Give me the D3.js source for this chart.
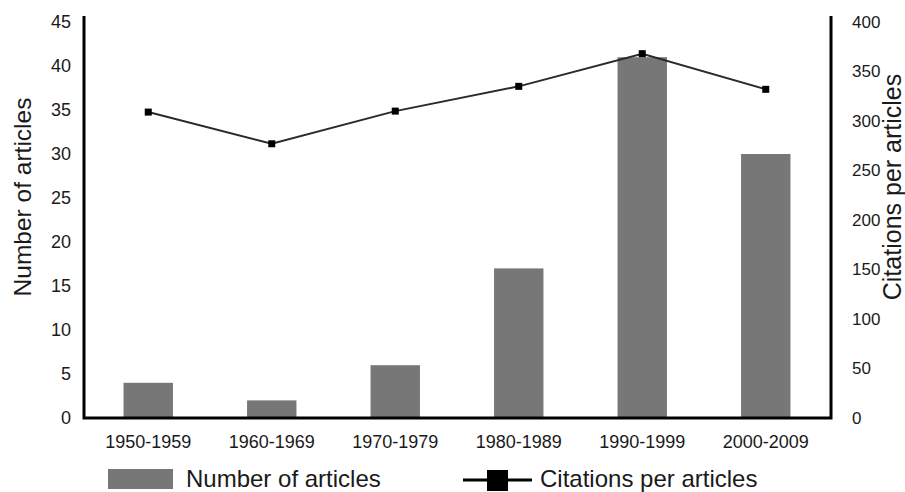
<!DOCTYPE html>
<html>
<head>
<meta charset="utf-8">
<script src="https://cdn.jsdelivr.net/npm/d3@7"></script>
<style>
  html, body { margin: 0; padding: 0; background: #ffffff; }
  svg { display: block; font-family: "Liberation Sans", Arial, sans-serif; }
</style>
</head>
<body>
<svg id="chart" width="905" height="492"></svg>
<script>
const categories = ["1950-1959", "1960-1969", "1970-1979", "1980-1989", "1990-1999", "2000-2009"];
const articles = [4, 2, 6, 17, 41, 30];
const citations = [309, 277, 310, 335, 368, 332];
const leftTicks = [0, 5, 10, 15, 20, 25, 30, 35, 40, 45];
const rightTicks = [0, 50, 100, 150, 200, 250, 300, 350, 400];
const seriesNames = ["Number of articles", "Citations per articles"];

(function () {
const svg = d3.select("#chart");
const pLeft = 84, pRight = 831, pTop = 16, pBase = 418;

const x = d3.scaleBand().domain(categories).range([86.5, 827.5]).paddingInner(0.6).paddingOuter(0.3);
const yL = d3.scaleLinear().domain([0, 45]).range([pBase, 22]);
const yR = d3.scaleLinear().domain([0, 400]).range([pBase, 22]);

const barColor = "#777777";
const textColor = "#1a1a1a";
const ff = "Liberation Sans, Arial, sans-serif";

// bars
svg.append("g").selectAll("rect").data(articles).join("rect")
  .attr("x", (d, i) => x(categories[i]))
  .attr("width", x.bandwidth())
  .attr("y", d => yL(d))
  .attr("height", d => yL(0) - yL(d))
  .attr("fill", barColor);

// line
const cx = i => x(categories[i]) + x.bandwidth() / 2;
const line = d3.line().x((d, i) => cx(i)).y(d => yR(d));
svg.append("path").datum(citations)
  .attr("d", line).attr("fill", "none").attr("stroke", "#2a2a2a").attr("stroke-width", 2);
svg.append("g").selectAll("rect").data(citations).join("rect")
  .attr("x", (d, i) => cx(i) - 3.5).attr("y", d => yR(d) - 3.5)
  .attr("width", 7).attr("height", 7).attr("fill", "#000");

// axes
const axL = d3.axisLeft(yL).tickValues(leftTicks).tickSize(0).tickPadding(13);
const gL = svg.append("g").attr("transform", `translate(${pLeft},0)`).call(axL);
gL.select(".domain").remove();
gL.selectAll("text").attr("font-size", 18).attr("fill", textColor).attr("font-family", ff);

const axR = d3.axisRight(yR).tickValues(rightTicks).tickSize(0).tickPadding(21);
const gR = svg.append("g").attr("transform", `translate(${pRight},0)`).call(axR);
gR.select(".domain").remove();
gR.selectAll("text").attr("font-size", 17).attr("fill", textColor).attr("font-family", ff);

const axB = d3.axisBottom(x).tickSize(0).tickPadding(17);
const gB = svg.append("g").attr("transform", `translate(0,${pBase})`).call(axB);
gB.select(".domain").remove();
gB.selectAll("text").attr("font-size", 18).attr("fill", textColor).attr("font-family", ff);

// frame lines (left, bottom, right)
svg.append("path")
  .attr("d", `M${pLeft},${pTop}V${pBase}H${pRight}V${pTop}`)
  .attr("fill", "none").attr("stroke", "#000").attr("stroke-width", 3);

// axis titles
svg.append("text").attr("transform", `translate(31,197) rotate(-90)`)
  .attr("text-anchor", "middle").attr("font-size", 24.5).attr("fill", textColor)
  .text(seriesNames[0]);
svg.append("text").attr("transform", `translate(901,187) rotate(-90)`)
  .attr("text-anchor", "middle").attr("font-size", 25).attr("fill", textColor)
  .text(seriesNames[1]);

// legend
const lg = svg.append("g");
lg.append("rect").attr("x", 108).attr("y", 469).attr("width", 65).attr("height", 20).attr("fill", barColor);
lg.append("text").attr("x", 186).attr("y", 486.5).attr("font-size", 24).attr("fill", textColor).text(seriesNames[0]);
lg.append("line").attr("x1", 463).attr("x2", 532).attr("y1", 480).attr("y2", 480).attr("stroke", "#000").attr("stroke-width", 3);
lg.append("rect").attr("x", 487).attr("y", 470).attr("width", 21).attr("height", 21).attr("fill", "#000");
lg.append("text").attr("x", 540).attr("y", 486.5).attr("font-size", 24).attr("fill", textColor).text(seriesNames[1]);
})();
</script>
</body>
</html>
